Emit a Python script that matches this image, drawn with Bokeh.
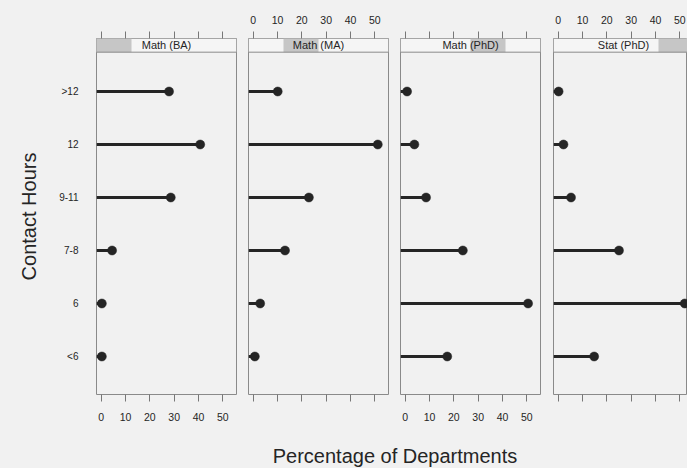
from bokeh.plotting import figure
from bokeh.models import ColumnDataSource, LinearAxis, FixedTicker, Range1d, Label, Span
from bokeh.layouts import row, column
from bokeh.embed import file_html
from bokeh.resources import INLINE

# ---------------- data ----------------
hours = ["<6", "6", "7-8", "9-11", "12", ">12"]
panel_names = ["Math (BA)", "Math (MA)", "Math (PhD)", "Stat (PhD)"]
math_ba = [0.3, 0.3, 4.5, 28.6, 40.7, 27.9]
math_ma = [0.7, 2.9, 13.1, 22.9, 51.2, 10.1]
math_phd = [17.3, 50.5, 23.7, 8.6, 3.8, 0.8]
stat_phd = [14.8, 52.0, 25.0, 5.3, 2.2, 0.2]
x_ticks = [0, 10, 20, 30, 40, 50]
x_title = "Percentage of Departments"
y_title = "Contact Hours"

# ---------------- style / layout ----------------
FONT = "Liberation Sans"
BG = "#f1f1f1"
STRIP_BG = "#f5f5f5"
SHADE = "#c6c6c6"
INK = "#252525"
FRAME = "#8a8a8a"
TICK = "#777777"

X_LO, X_HI = -1.9, 55.6
Y_LO, Y_HI = 0.283, 7.0
STRIP_LO = 6.742
FRAME_W, FRAME_H = 140, 356
PX_PER_UNIT = FRAME_W / (X_HI - X_LO)

positions = list(range(1, len(hours) + 1))


def x_axis(show_labels, standoff):
    ax = LinearAxis(ticker=FixedTicker(ticks=x_ticks))
    ax.axis_line_color = None
    ax.major_tick_in = 0
    ax.major_tick_out = 7
    ax.major_tick_line_color = TICK
    ax.minor_tick_line_color = None
    ax.major_label_standoff = standoff
    ax.major_label_text_font = FONT
    ax.major_label_text_font_size = "10.5px"
    ax.major_label_text_color = INK
    if not show_labels:
        ax.major_label_overrides = {t: "" for t in x_ticks}
    return ax


def make_panel(i, name, values, frame_w, left_b, right_b):
    x_hi_view = X_LO + frame_w / PX_PER_UNIT
    p = figure(width=left_b + frame_w + right_b, height=38 + FRAME_H + 34,
               x_range=Range1d(X_LO, x_hi_view), y_range=Range1d(Y_LO, Y_HI),
               toolbar_location=None, output_backend="svg",
               x_axis_location=None, y_axis_location=None,
               min_border_left=left_b, min_border_right=right_b,
               min_border_top=38, min_border_bottom=34)
    p.background_fill_color = BG
    p.border_fill_color = BG
    p.outline_line_color = FRAME
    p.outline_line_width = 1
    p.xgrid.visible = False
    p.ygrid.visible = False

    # axes: ticks on both sides, labels alternate
    p.add_layout(x_axis(i % 2 == 0, 11), "below")
    p.add_layout(x_axis(i % 2 == 1, 8), "above")

    if i == 0:
        ya = LinearAxis(ticker=FixedTicker(ticks=positions))
        ya.major_label_overrides = {pos: h for pos, h in zip(positions, hours)}
        ya.axis_line_color = None
        ya.major_tick_line_color = None
        ya.major_tick_in = 0
        ya.major_tick_out = 0
        ya.minor_tick_line_color = None
        ya.major_label_standoff = 18
        ya.major_label_text_font = FONT
        ya.major_label_text_font_size = "10px"
        ya.major_label_text_color = INK
        ya.axis_label = y_title
        ya.axis_label_text_font = FONT
        ya.axis_label_text_font_size = "20px"
        ya.axis_label_text_font_style = "normal"
        ya.axis_label_text_color = INK
        ya.axis_label_standoff = 16
        p.add_layout(ya, "left")

    # strip
    width_full = X_HI - X_LO
    p.quad(left=[X_LO], right=[X_HI], bottom=[STRIP_LO], top=[Y_HI],
           fill_color=STRIP_BG, line_color=None)
    p.quad(left=[X_LO + i * width_full / 4], right=[X_LO + (i + 1) * width_full / 4],
           bottom=[STRIP_LO], top=[Y_HI], fill_color=SHADE, line_color=None)
    p.add_layout(Span(location=STRIP_LO, dimension="width", line_color=FRAME, line_width=1))
    p.add_layout(Label(x=(X_LO + X_HI) / 2, y=(STRIP_LO + Y_HI) / 2, text=name,
                       text_align="center", text_baseline="middle",
                       text_font=FONT, text_font_size="11px", text_color=INK))

    src = ColumnDataSource(dict(y=positions, x=values, x0=[X_LO] * len(values)))
    p.segment(x0="x0", y0="y", x1="x", y1="y", source=src,
              line_width=3, line_color=INK)
    p.scatter(x="x", y="y", source=src, size=9, fill_color=INK,
              line_color=INK, line_width=0.5)
    return p


series = [math_ba, math_ma, math_phd, stat_phd]
p1 = make_panel(0, panel_names[0], series[0], FRAME_W, 96, 6)
p2 = make_panel(1, panel_names[1], series[1], FRAME_W, 6, 6)
p3 = make_panel(2, panel_names[2], series[2], FRAME_W, 6, 6)
p4 = make_panel(3, panel_names[3], series[3], 134, 7, 0)

fb = figure(width=687, height=40, toolbar_location=None, output_backend="svg",
            x_range=Range1d(0, 687), y_range=Range1d(0, 40), min_border=0)
fb.axis.visible = False
fb.xgrid.visible = False
fb.ygrid.visible = False
fb.outline_line_color = None
fb.background_fill_color = BG
fb.border_fill_color = BG
fb.add_layout(Label(x=394.5, y=13, text=x_title, text_align="center",
                    text_baseline="middle", text_font=FONT,
                    text_font_size="20px", text_color=INK))

layout = column(row(p1, p2, p3, p4), fb)

html = file_html(layout, INLINE)
html = html.replace("</head>", "<style>html, body { background: #f1f1f1; }</style></head>", 1)
open("out.html", "w").write(html)
